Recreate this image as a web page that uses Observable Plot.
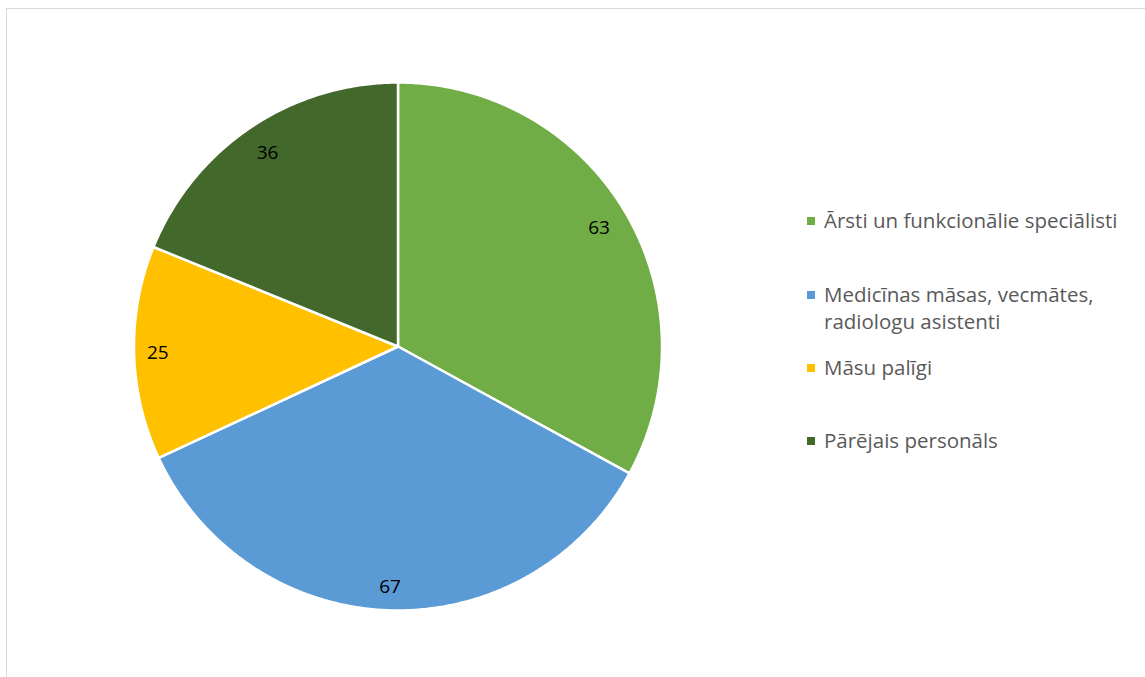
<!DOCTYPE html>
<html>
<head>
<meta charset="utf-8">
<script src="https://cdn.jsdelivr.net/npm/d3@7"></script>
<script src="https://cdn.jsdelivr.net/npm/@observablehq/plot@0.6"></script>
<style>
  html, body { margin: 0; padding: 0; background: #fff; overflow: hidden; }
  #wrap { position: relative; width: 1145px; height: 677px; }
  #frame { position: absolute; left: 6px; top: 8px; width: 1200px; height: 700px; border: 1.5px solid #d9d9d9; box-sizing: border-box; }
  #chart { position: absolute; left: 0; top: 0; }
  #legend { position: absolute; left: 807px; top: 0; font-family: "Open Sans", Lato, sans-serif; font-size: 20.5px; color: #595959; }
  .item { position: absolute; left: 0; white-space: nowrap; line-height: 27px; }
  .sw { position: absolute; left: 0; top: 10px; width: 8px; height: 8px; }
  .lbl { position: absolute; left: 17px; top: 0; }
</style>
</head>
<body>
<div id="wrap">
  <div id="frame"></div>
  <div id="chart"></div>
  <div id="legend"></div>
</div>
<script>
const categories = ["Ārsti un funkcionālie speciālisti", "Medicīnas māsas, vecmātes, radiologu asistenti", "Māsu palīgi", "Pārējais personāls"];
const legendLines = [["Ārsti un funkcionālie speciālisti"], ["Medicīnas māsas, vecmātes,", "radiologu asistenti"], ["Māsu palīgi"], ["Pārējais personāls"]];
const values = [63, 67, 25, 36];
const colors = ["#70AD47", "#5B9BD5", "#FFC000", "#43682B"];

const arcs = d3.pie().sort(null).value((d, i) => values[i])(categories);

const wedgePts = [];
arcs.forEach((a, i) => {
  const cat = categories[i];
  wedgePts.push({cat, x: 0, y: 0});
  const n = Math.max(2, Math.ceil((a.endAngle - a.startAngle) / (Math.PI / 360)));
  for (let k = 0; k <= n; k++) {
    const t = a.startAngle + (a.endAngle - a.startAngle) * k / n;
    wedgePts.push({cat, x: Math.sin(t), y: Math.cos(t)});
  }
});

const labelPos = [0.885, 0.91, 0.91, 0.885];
const labels = arcs.map((a, i) => {
  const m = (a.startAngle + a.endAngle) / 2;
  return {x: labelPos[i] * Math.sin(m), y: labelPos[i] * Math.cos(m), text: String(values[i])};
});

const plot = Plot.plot({
  width: 1145,
  height: 677,
  marginLeft: 133.5,
  marginRight: 483.5,
  marginTop: 82,
  marginBottom: 67,
  x: {domain: [-1, 1], axis: null},
  y: {domain: [-1, 1], axis: null},
  color: {domain: categories, range: colors},
  style: {background: "transparent", fontFamily: "'Open Sans', Lato, sans-serif"},
  marks: [
    Plot.line(wedgePts, {x: "x", y: "y", z: "cat", fill: "cat", stroke: "white", strokeWidth: 2.5, curve: "linear-closed", strokeLinejoin: "round"}),
    Plot.text(labels, {x: "x", y: "y", text: "text", fontSize: 19, fill: "#000"})
  ]
});
document.getElementById("chart").appendChild(plot);

const legendTops = [206.5, 281, 353.5, 426.5];
const leg = document.getElementById("legend");
legendLines.forEach((lines, i) => {
  const it = document.createElement("div");
  it.className = "item";
  it.style.top = legendTops[i] + "px";
  const sw = document.createElement("div");
  sw.className = "sw";
  sw.style.background = colors[i];
  const lb = document.createElement("div");
  lb.className = "lbl";
  lb.innerHTML = lines.join("<br>");
  it.appendChild(sw); it.appendChild(lb);
  leg.appendChild(it);
});
</script>
</body>
</html>
